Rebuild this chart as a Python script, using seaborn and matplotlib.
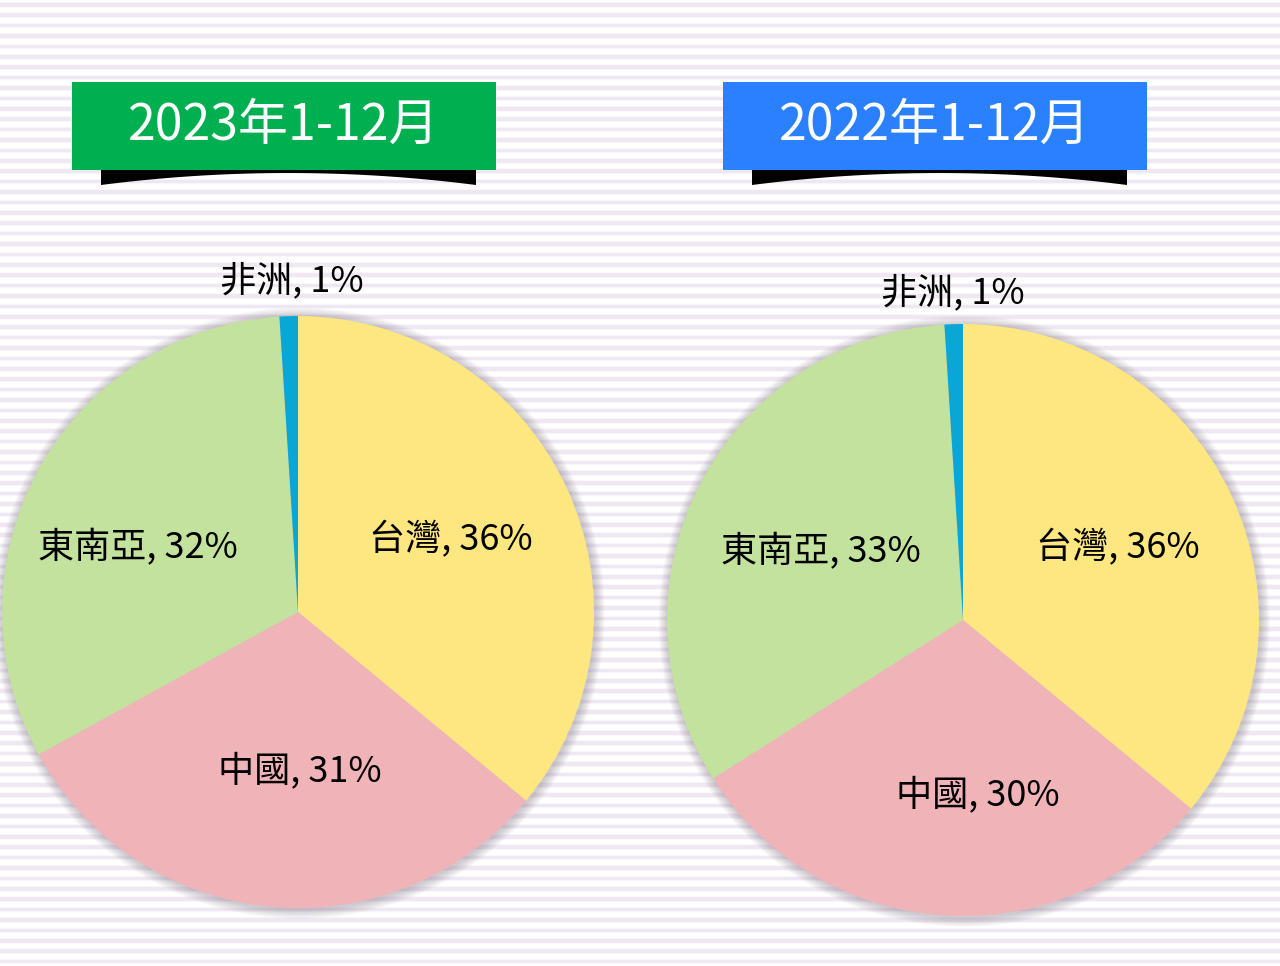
import numpy as np
import matplotlib
matplotlib.use("Agg")
import matplotlib.pyplot as plt
from matplotlib.patches import Rectangle, Polygon, Circle
import matplotlib.transforms as mtransforms
import seaborn as sns

sns.set_style("white")
plt.rcParams['font.family'] = ['Noto Sans CJK TC', 'DejaVu Sans']

# ---- data ----
categories = ["台灣", "中國", "東南亞", "非洲"]
values_2023 = [36, 31, 32, 1]
values_2022 = [36, 30, 33, 1]
titles = ["2023年1-12月", "2022年1-12月"]
title_colors = ["#00b050", "#2a80ff"]
slice_colors = sns.color_palette(["#fee680", "#f0b3b8", "#c3e29d", "#0aa6d6"])
# label nudges in pixels (x right, y up)
label_nudge_2023 = [(0, 0), (18, 9), (-12, -17), (4, 0)]
label_nudge_2022 = [(2, 0), (25, -6), (8, -8), (0, -4)]

W, H = 1280, 966
fig = plt.figure(figsize=(W / 100, H / 100), dpi=100)
fig.patch.set_facecolor("white")

# background stripes + banners layer (pixel coords)
bg = fig.add_axes([0, 0, 1, 1], zorder=0)
bg.set_xlim(0, W)
bg.set_ylim(H, 0)
bg.axis("off")
for y in np.arange(3, H, 10.4):
    bg.add_patch(Rectangle((0, y), W, 3.5, color="#ede5f0", lw=0, alpha=0.8))
    bg.add_patch(Rectangle((0, y - 1), W, 5.5, color="#ede5f0", lw=0, alpha=0.3))

banner_x = [72, 723]
for bx, t, c in zip(banner_x, titles, title_colors):
    w = 424
    xs = np.linspace(bx + 29, bx + w - 20, 60)
    mid = (xs[0] + xs[-1]) / 2
    half = (xs[-1] - xs[0]) / 2
    ys = 173 + 12 * ((xs - mid) / half) ** 2
    pts = [(xs[0], 168)] + list(zip(xs, ys)) + [(xs[-1], 168)]
    bg.add_patch(Polygon(pts, closed=True, color="black", lw=0))
    bg.add_patch(Rectangle((bx, 82), w, 88, color=c, lw=0))
    bg.text(bx + w / 2, 126, t, color="white", fontsize=36,
            ha="center", va="center")

# pies
centers = [(298, 612), (963, 620)]
R = 296
for (cx, cy), vals, nudges in zip(centers, [values_2023, values_2022],
                                  [label_nudge_2023, label_nudge_2022]):
    ax = fig.add_axes([(cx - R) / W, (H - cy - R) / H, 2 * R / W, 2 * R / H], zorder=1)
    for k in range(8):
        ax.add_patch(Circle((0.004, -0.004), 1.0 + 0.004 * (k + 1), color="#7a7080",
                            alpha=0.05, lw=0, zorder=0, clip_on=False))
    labels = [f"{c}, {v}%" for c, v in zip(categories, vals)]
    wedges, texts = ax.pie(vals, labels=labels, colors=slice_colors, startangle=90,
                           counterclock=False, radius=1.0, labeldistance=0.57,
                           wedgeprops=dict(linewidth=0),
                           textprops=dict(fontsize=26, color="black", fontweight="medium",
                                          ha="center", va="center"))
    ax.set_xlim(-1, 1)
    ax.set_ylim(-1, 1)
    ax.axis("off")
    for wdg, txt, (nx, ny) in zip(wedges, texts, nudges):
        ang = np.deg2rad((wdg.theta1 + wdg.theta2) / 2)
        d = 1.12 if (wdg.theta2 - wdg.theta1) < 10 else 0.57
        txt.set_position((d * np.cos(ang), d * np.sin(ang)))
        txt.set_transform(mtransforms.offset_copy(ax.transData, fig=fig,
                                                  x=nx, y=ny, units="dots"))
        txt.set_ha("center")
        txt.set_va("center")
        txt.set_clip_on(False)

fig.savefig("out.png", dpi=100, facecolor="white")
